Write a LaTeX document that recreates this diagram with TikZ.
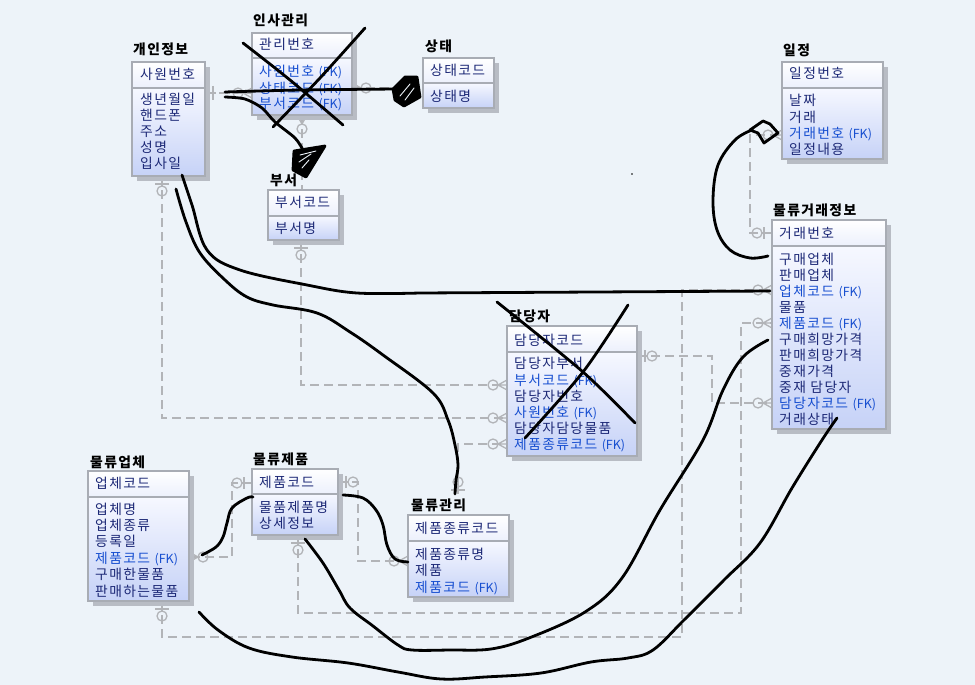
\documentclass[tikz,border=0pt]{standalone}
\usepackage{fontspec}
\newfontfamily\kr[LetterSpace=10]{Noto Sans CJK KR}
\newfontfamily\krn{Noto Sans CJK KR}
\newcommand\FK{{\krn\fontsize{12.5}{16}\selectfont(FK)}}
\definecolor{bgc}{RGB}{237,243,249}
\definecolor{relc}{RGB}{178,180,184}
\definecolor{brd}{RGB}{168,172,180}
\definecolor{shad}{RGB}{184,188,196}
\definecolor{navy}{RGB}{28,40,118}
\definecolor{fkc}{RGB}{22,78,208}
\definecolor{htop}{RGB}{255,255,255}
\definecolor{hbot}{RGB}{236,240,252}
\definecolor{btop}{RGB}{246,248,255}
\definecolor{bbot}{RGB}{198,210,247}
\tikzset{
 hbox/.style={draw=brd, line width=1.2pt, top color=htop, bottom color=hbot, inner sep=0pt},
 bbox/.style={draw=brd, line width=1.2pt, top color=btop, bottom color=bbot, inner sep=0pt},
 sepl/.style={draw=brd, line width=2pt},
 att/.style={text=navy, inner sep=0pt, font=\kr\fontsize{13.8}{16}\selectfont},
 fk/.style={text=fkc, inner sep=0pt, font=\kr\fontsize{13.8}{16}\selectfont},
 ttl/.style={text=black, inner sep=0pt, font=\kr\bfseries\fontsize{13.8}{16}\selectfont},
 rel/.style={draw=relc, line width=1.3pt, dash pattern=on 9pt off 5pt},
 mk/.style={draw=relc, line width=1.3pt},
 hand/.style={draw=black, line width=2.8pt, line cap=round, line join=round},
 gap/.style={draw=bgc, line width=0.9pt, line cap=round},
}
\newcommand\entbox[6]{%
 \fill[shad] (#2+5,#3+5) rectangle (#2+#4+5,#6+5);
 \node[hbox, minimum width=#4, minimum height=#5-#3] (#1h) at (#2+#4/2,#3/2+#5/2) {};
 \node[bbox, minimum width=#4, minimum height=#6-#5] (#1b) at (#2+#4/2,#5/2+#6/2) {};
 \draw[sepl] (#2,#5) -- (#2+#4,#5);
}
\newcommand\tx[5]{\node[#1, anchor=base west] (#2) at (#3,#4+5) {#5};}
\newcommand\crowL[2]{%
 \draw[mk] (#1-9,#2) -- (#1,#2-5) (#1-9,#2) -- (#1,#2+5) (#1-9,#2) -- (#1,#2);
 \draw[mk] (#1-14,#2) circle[radius=5pt];}
\newcommand\crowRR[2]{%
 \draw[mk] (#1+9,#2) -- (#1,#2-5) (#1+9,#2) -- (#1,#2+5) (#1+9,#2) -- (#1,#2);
 \draw[mk] (#1+14,#2) circle[radius=5pt];}
\newcommand\crowD[2]{%
 \draw[mk] (#1,#2+9) -- (#1-5,#2) (#1,#2+9) -- (#1+5,#2) (#1,#2+9) -- (#1,#2);
 \draw[mk] (#1,#2+14) circle[radius=5pt];}
\newcommand\oneD[2]{%
 \draw[mk] (#1-7,#2+8) -- (#1+7,#2+8) (#1,#2) -- (#1,#2+10);
 \draw[mk] (#1,#2+15) circle[radius=5pt];}
\newcommand\oneR[2]{%
 \draw[mk] (#1+8,#2-6) -- (#1+8,#2+6) (#1,#2) -- (#1+10,#2);
 \draw[mk] (#1+15,#2) circle[radius=5pt];}
\newcommand\oneL[2]{%
 \draw[mk] (#1-8,#2-6) -- (#1-8,#2+6) (#1,#2) -- (#1-10,#2);
 \draw[mk] (#1-15,#2) circle[radius=5pt];}
\begin{document}
\begin{tikzpicture}[x=1pt,y=-1pt]
\fill[bgc] (0,0) rectangle (975,685);
\useasboundingbox (0,0) rectangle (975,685);

% ---------------- relationship lines ----------------
\coordinate (r1a) at (205,93); \coordinate (r1b) at (252,93);
\draw[rel] (r1a) -- (r1b);
\draw[mk] (213,86) -- (213,100) (205,93) -- (216,93);
\crowL{252}{93}

\coordinate (r2a) at (352,88); \coordinate (r2b) at (423,88);
\draw[rel] (r2a) -- (r2b);
\crowRR{352}{88}
\draw[mk] (415,82) -- (415,94);

\coordinate (r3a) at (302,115); \coordinate (r3b) at (302,190);
\draw[rel] (r3a) -- (r3b);
\crowD{302}{115}

\coordinate (r4a) at (162,176); \coordinate (r4c) at (162,418); \coordinate (r4b) at (507,418);
\draw[rel] (r4a) -- (r4c) -- (r4b);
\oneD{162}{176}
\crowL{507}{418}

\coordinate (r5a) at (301,240); \coordinate (r5c) at (301,385); \coordinate (r5b) at (507,385);
\draw[rel] (r5a) -- (r5c) -- (r5b);
\oneD{301}{240}
\crowL{507}{385}

\coordinate (r6a) at (458,494); \coordinate (r6c) at (458,444); \coordinate (r6b) at (507,444);
\draw[rel] (r6a) -- (r6c) -- (r6b);
\draw[mk] (458,477) -- (458,494) (451,490) -- (465,490);
\draw[mk] (458,482) circle[radius=5pt];
\crowL{507}{444}

\coordinate (r7a) at (637,356); \coordinate (r7c) at (712,356); \coordinate (r7d) at (712,403); \coordinate (r7b) at (772,403);
\draw[rel] (r7a) -- (r7c) -- (r7d) -- (r7b);
\oneR{637}{356}
\crowL{772}{403}

\coordinate (r8a) at (772,233); \coordinate (r8c) at (750,233); \coordinate (r8d) at (750,135); \coordinate (r8b) at (782,135);
\draw[rel] (r8a) -- (r8c) -- (r8d) -- (r8b);
\oneL{772}{233}
\crowL{782}{135}

\coordinate (r9a) at (162,601); \coordinate (r9c) at (162,637); \coordinate (r9d) at (682,637); \coordinate (r9e) at (682,290); \coordinate (r9b) at (772,290);
\draw[rel] (r9a) -- (r9c) -- (r9d) -- (r9e) -- (r9b);
\oneD{162}{601}
\crowL{772}{290}

\coordinate (r10a) at (298,535); \coordinate (r10c) at (298,613); \coordinate (r10d) at (741,613); \coordinate (r10e) at (741,323); \coordinate (r10b) at (772,323);
\draw[rel] (r10a) -- (r10c) -- (r10d) -- (r10e) -- (r10b);
\oneD{298}{535}
\crowL{772}{323}

\coordinate (r11a) at (252,483); \coordinate (r11c) at (232,483); \coordinate (r11d) at (232,557); \coordinate (r11b) at (189,557);
\draw[rel] (r11a) -- (r11c) -- (r11d) -- (r11b);
\oneL{252}{483}
\crowRR{189}{557}

\coordinate (r12a) at (338,482); \coordinate (r12c) at (358,482); \coordinate (r12d) at (358,561); \coordinate (r12b) at (408,561);
\draw[rel] (r12a) -- (r12c) -- (r12d) -- (r12b);
\oneR{338}{482}
\crowL{408}{561}

% ---------------- entities ----------------
\entbox{P}{132}{62}{73}{88}{176}
\tx{ttl}{Pt}{133}{50}{개인정보}
\tx{att}{P0}{140}{75}{사원번호}
\tx{att}{P1}{140}{99}{생년월일}
\tx{att}{P2}{140}{115}{핸드폰}
\tx{att}{P3}{140}{131}{주소}
\tx{att}{P4}{140}{147}{성명}
\tx{att}{P5}{140}{163}{입사일}

\entbox{H}{252}{33}{100}{58}{115}
\tx{ttl}{Ht}{253}{21}{인사관리}
\tx{att}{H0}{259}{45}{관리번호}
\tx{fk}{H1}{259}{72}{사원번호 \FK}
\tx{fk}{H2}{259}{88}{상태코드 \FK}
\tx{fk}{H3}{259}{103}{부서코드 \FK}

\entbox{S}{423}{58}{71}{83}{108}
\tx{ttl}{St}{425}{47}{상태}
\tx{att}{S0}{430}{70}{상태코드}
\tx{att}{S1}{430}{96}{상태명}

\entbox{B}{268}{190}{71}{216}{240}
\tx{ttl}{Bt}{270}{180}{부서}
\tx{att}{B0}{275}{202}{부서코드}
\tx{att}{B1}{275}{228}{부서명}

\entbox{J}{782}{62}{101}{88}{159}
\tx{ttl}{Jt}{783}{51}{일정}
\tx{att}{J0}{789}{74}{일정번호}
\tx{att}{J1}{789}{101}{날짜}
\tx{att}{J2}{789}{117}{거래}
\tx{fk}{J3}{789}{133}{거래번호 \FK}
\tx{att}{J4}{789}{149}{일정내용}

\entbox{T}{772}{220}{114}{246}{429}
\tx{ttl}{Tt}{773}{210}{물류거래정보}
\tx{att}{T0}{779}{233}{거래번호}
\tx{att}{T1}{779}{259}{구매업체}
\tx{att}{T2}{779}{275}{판매업체}
\tx{fk}{T3}{779}{291}{업체코드 \FK}
\tx{att}{T4}{779}{307}{물품}
\tx{fk}{T5}{779}{323}{제품코드 \FK}
\tx{att}{T6}{779}{339}{구매희망가격}
\tx{att}{T7}{779}{355}{판매희망가격}
\tx{att}{T8}{779}{371}{중재가격}
\tx{att}{T9}{779}{387}{중재 담당자}
\tx{fk}{T10}{779}{403}{담당자코드 \FK}
\tx{att}{T11}{779}{419}{거래상태}

\entbox{D}{507}{326}{130}{352}{456}
\tx{ttl}{Dt}{509}{316}{담당자}
\tx{att}{D0}{514}{340}{담당자코드}
\tx{att}{D1}{514}{363}{담당자부서}
\tx{fk}{D2}{514}{380}{부서코드 \FK}
\tx{att}{D3}{514}{396}{담당자번호}
\tx{fk}{D4}{514}{412}{사원번호 \FK}
\tx{att}{D5}{514}{428}{담당자담당물품}
\tx{fk}{D6}{514}{444}{제품종류코드 \FK}

\entbox{C}{88}{471}{101}{497}{601}
\tx{ttl}{Ct}{90}{462}{물류업체}
\tx{att}{C0}{95}{483}{업체코드}
\tx{att}{C1}{95}{509}{업체명}
\tx{att}{C2}{95}{525}{업체종류}
\tx{att}{C3}{95}{541}{등록일}
\tx{fk}{C4}{95}{558}{제품코드 \FK}
\tx{att}{C5}{95}{574}{구매한물품}
\tx{att}{C6}{95}{591}{판매하는물품}

\entbox{M}{252}{469}{86}{494}{535}
\tx{ttl}{Mt}{253}{459}{물류제품}
\tx{att}{M0}{259}{482}{제품코드}
\tx{att}{M1}{259}{507}{물품제품명}
\tx{att}{M2}{259}{523}{상세정보}

\entbox{L}{408}{515}{101}{541}{597}
\tx{ttl}{Lt}{411}{505}{물류관리}
\tx{att}{L0}{415}{528}{제품종류코드}
\tx{att}{L1}{415}{554}{제품종류명}
\tx{att}{L2}{415}{570}{제품}
\tx{fk}{L3}{415}{587}{제품코드 \FK}

% ---------------- hand-drawn marks ----------------
\draw[hand] plot[smooth] coordinates {(243,43) (290,80) (343,125)};
\draw[hand] plot[smooth] coordinates {(365,28) (320,78) (273,127)};
\draw[hand] plot[smooth] coordinates {(225,92) (300,90) (397,89)};
\draw[hand] plot[smooth] coordinates {(225,97) (245,99) (262,108) (275,122) (295,138) (303,150)};
% scribbled arrowheads
\filldraw[hand] (393,89) -- (405,77) -- (417,77) -- (420,97) -- (404,106) -- (395,100) -- cycle;
\draw[gap] (400,96) -- (410,84) (405,100) -- (414,88);
\filldraw[hand] (294,151) -- (325,146) -- (306,177) -- (293,170) -- cycle;
\draw[gap] (300,155) -- (316,151) (299,162) -- (311,154) (302,168) -- (309,160);
% X over 담당자
\draw[hand] plot[smooth] coordinates {(497,302) (583,372) (635,423)};
\draw[hand] plot[smooth] coordinates {(628,305) (583,372) (525,438)};
% 개인정보 -> 업체코드
\draw[hand] plot[smooth, tension=0.6] coordinates {(182,175) (192,205) (207,250) (240,270) (307,285) (357,293) (420,293)} -- (770,291);
% 개인정보 -> 물류관리
\draw[hand] plot[smooth, tension=0.6] coordinates {(176,189) (186,222) (200,253) (225,280) (247,297) (273,305) (317,313) (350,332) (383,355) (433,393) (448,420) (455,445) (458,465) (456,480) (455,494)};
% loop to 일정
\draw[hand] plot[smooth, tension=0.6] coordinates {(768,256) (750,258) (730,250) (717,230) (713,200) (718,165) (735,140) (752,130)};
\draw[hand] (750,130) -- (763,121) -- (770,124) -- (778,133) -- (764,143) -- (758,133) -- (750,130);
% 물류업체 -> 물류제품
\draw[hand] plot[smooth, tension=0.6] coordinates {(202,555) (216,547) (223,537) (227,523) (232,508) (247,498) (253,497)};
% 물류제품 -> 물류관리
\draw[hand] plot[smooth, tension=0.6] coordinates {(343,495) (363,498) (376,510) (383,525) (387,545) (395,559) (408,562)};
% inner U
\draw[hand] plot[smooth, tension=0.6] coordinates {(305,539) (323,563) (339,590) (350,608) (373,626) (398,645) (412,650) (450,650) (491,649) (529,638) (585,612) (622,578) (660,510) (703,440) (723,390) (743,357) (768,340)};
% outer U
\draw[hand] plot[smooth, tension=0.6] coordinates {(199,612) (218,630) (249,648) (292,657) (348,663) (398,672) (441,679) (485,677) (541,673) (591,662) (628,658) (653,650) (684,620) (724,580) (760,543) (792,488) (822,440) (837,418)};
\fill (632,174) circle[radius=0.9pt];
\end{tikzpicture}
\end{document}
